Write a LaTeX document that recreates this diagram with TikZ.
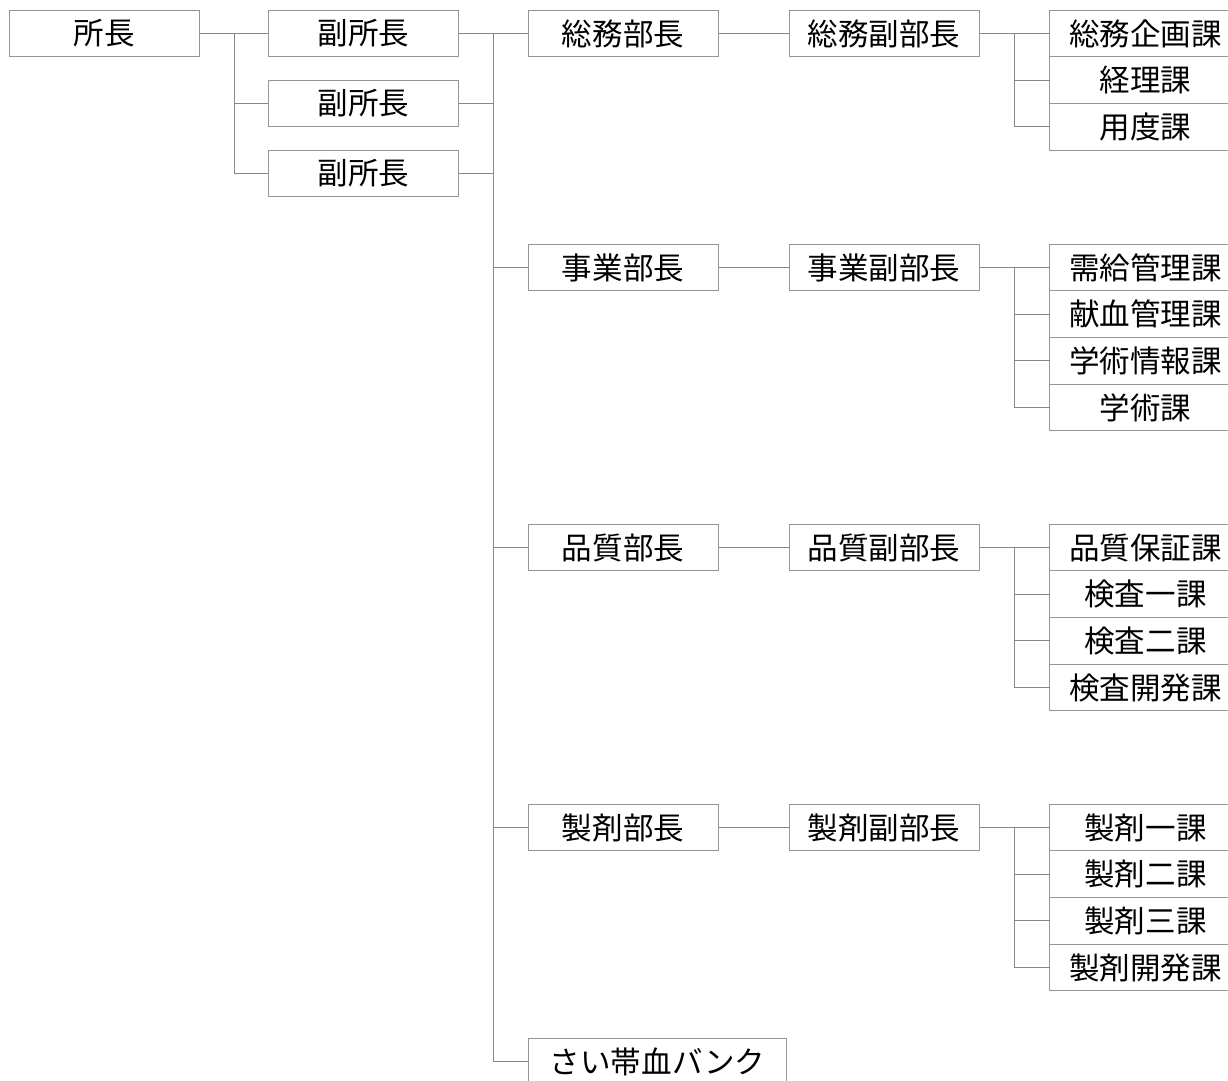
\documentclass[tikz,border=0pt]{standalone}
\usepackage{fontspec}
\usepackage{tikz}
\setmainfont{Noto Sans CJK JP}
\definecolor{boxGray}{RGB}{150, 150, 150}
\definecolor{lineGray}{RGB}{135, 135, 135}
\usetikzlibrary{positioning}

\begin{document}
\begin{tikzpicture}[
    x=0.75pt, y=-0.75pt,
    post/.style={rectangle, draw=boxGray, line width=0.75pt, fill=white, minimum width=142.5pt, minimum height=35pt, inner sep=0pt, font=\fontsize{22.9pt}{26pt}\selectfont},
    ka/.style={post, minimum width=144pt, outer sep=0pt},
    conn/.style={draw=lineGray, line width=0.75pt}
]
    \clip (0,0) rectangle (1228,1081);

    % Top
    \node[post] (shocho) at (104.5,33.5) {所長};
    \node[post] (fuku1) at (363.5,33.5) {副所長};
    \node[post] (fuku2) at (363.5,103.5) {副所長};
    \node[post] (fuku3) at (363.5,173.5) {副所長};

    % Departments
    \node[post] (soumu) at (623,33.5) {総務部長};
    \node[post, right=52.5pt of soumu] (soumuFuku) {総務副部長};
    \node[ka, right=52.5pt of soumuFuku] (kikaku) {総務企画課};
    \node[ka, below=0pt of kikaku] (keiri) {経理課};
    \node[ka, below=0pt of keiri] (youdo) {用度課};

    \node[post] (jigyou) at (623,267.5) {事業部長};
    \node[post, right=52.5pt of jigyou] (jigyouFuku) {事業副部長};
    \node[ka, right=52.5pt of jigyouFuku] (jukyu) {需給管理課};
    \node[ka, below=0pt of jukyu] (kenketsu) {献血管理課};
    \node[ka, below=0pt of kenketsu] (jouhou) {学術情報課};
    \node[ka, below=0pt of jouhou] (gakujutsu) {学術課};

    \node[post] (hinshitsu) at (623,547.5) {品質部長};
    \node[post, right=52.5pt of hinshitsu] (hinshitsuFuku) {品質副部長};
    \node[ka, right=52.5pt of hinshitsuFuku] (hoshou) {品質保証課};
    \node[ka, below=0pt of hoshou] (kensaA) {検査一課};
    \node[ka, below=0pt of kensaA] (kensaB) {検査二課};
    \node[ka, below=0pt of kensaB] (kensaKaihatsu) {検査開発課};

    \node[post] (seizai) at (623,827.5) {製剤部長};
    \node[post, right=52.5pt of seizai] (seizaiFuku) {製剤副部長};
    \node[ka, right=52.5pt of seizaiFuku] (seizaiA) {製剤一課};
    \node[ka, below=0pt of seizaiA] (seizaiB) {製剤二課};
    \node[ka, below=0pt of seizaiB] (seizaiC) {製剤三課};
    \node[ka, below=0pt of seizaiC] (seizaiKaihatsu) {製剤開発課};

    \node[post, minimum width=194pt] (saitai) at (657.5,1061.5) {さい帯血バンク};

    % Connections
    \draw[conn] (shocho.east) -- (fuku1.west);
    \draw[conn] (shocho.east) -- ++(34.5,0) |- (fuku2.west);
    \draw[conn] (shocho.east) -- ++(34.5,0) |- (fuku3.west);

    \draw[conn] (fuku1.east) -- (soumu.west);
    \draw[conn] (fuku1.east) -- ++(34.5,0) |- (jigyou.west);
    \draw[conn] (fuku1.east) -- ++(34.5,0) |- (hinshitsu.west);
    \draw[conn] (fuku1.east) -- ++(34.5,0) |- (seizai.west);
    \draw[conn] (fuku1.east) -- ++(34.5,0) |- (saitai.west);
    \draw[conn] (fuku2.east) -- ++(34.5,0);
    \draw[conn] (fuku3.east) -- ++(34.5,0);

    \draw[conn] (soumu) -- (soumuFuku);
    \draw[conn] (soumuFuku.east) -- (kikaku.west);
    \draw[conn] (soumuFuku.east) -- ++(34.5,0) |- (keiri.west);
    \draw[conn] (soumuFuku.east) -- ++(34.5,0) |- (youdo.west);

    \draw[conn] (jigyou) -- (jigyouFuku);
    \draw[conn] (jigyouFuku.east) -- (jukyu.west);
    \draw[conn] (jigyouFuku.east) -- ++(34.5,0) |- (kenketsu.west);
    \draw[conn] (jigyouFuku.east) -- ++(34.5,0) |- (jouhou.west);
    \draw[conn] (jigyouFuku.east) -- ++(34.5,0) |- (gakujutsu.west);

    \draw[conn] (hinshitsu) -- (hinshitsuFuku);
    \draw[conn] (hinshitsuFuku.east) -- (hoshou.west);
    \draw[conn] (hinshitsuFuku.east) -- ++(34.5,0) |- (kensaA.west);
    \draw[conn] (hinshitsuFuku.east) -- ++(34.5,0) |- (kensaB.west);
    \draw[conn] (hinshitsuFuku.east) -- ++(34.5,0) |- (kensaKaihatsu.west);

    \draw[conn] (seizai) -- (seizaiFuku);
    \draw[conn] (seizaiFuku.east) -- (seizaiA.west);
    \draw[conn] (seizaiFuku.east) -- ++(34.5,0) |- (seizaiB.west);
    \draw[conn] (seizaiFuku.east) -- ++(34.5,0) |- (seizaiC.west);
    \draw[conn] (seizaiFuku.east) -- ++(34.5,0) |- (seizaiKaihatsu.west);
\end{tikzpicture}
\end{document}
